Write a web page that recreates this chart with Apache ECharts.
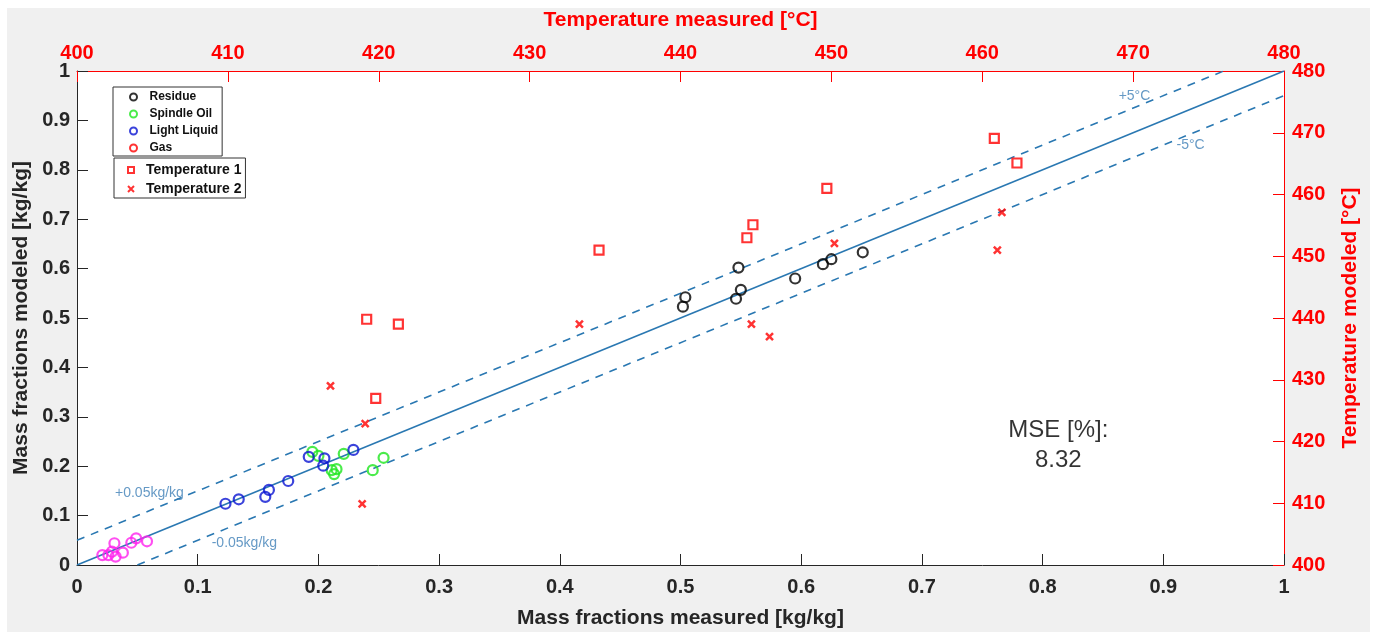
<!DOCTYPE html>
<html>
<head>
<meta charset="utf-8">
<script src="https://cdn.jsdelivr.net/npm/echarts@6/dist/echarts.min.js"></script>
<style>
html,body{margin:0;padding:0;background:#ffffff;}
#chart{position:absolute;left:7px;top:8px;width:1363px;height:624px;}
</style>
</head>
<body>
<div id="chart"></div>
<script>
// ---- data ----
const massTicks = [0, 0.1, 0.2, 0.3, 0.4, 0.5, 0.6, 0.7, 0.8, 0.9, 1];
const tempTicks = [400, 410, 420, 430, 440, 450, 460, 470, 480];

const residueMeasured = [0.502, 0.504, 0.548, 0.546, 0.550, 0.595, 0.618, 0.625, 0.651];
const residueModeled  = [0.523, 0.542, 0.602, 0.539, 0.557, 0.580, 0.609, 0.619, 0.633];

const spindleMeasured = [0.195, 0.200, 0.211, 0.215, 0.213, 0.221, 0.245, 0.254];
const spindleModeled  = [0.229, 0.221, 0.192, 0.194, 0.184, 0.225, 0.192, 0.217];

const lightMeasured = [0.123, 0.134, 0.156, 0.159, 0.175, 0.192, 0.205, 0.204, 0.229];
const lightModeled  = [0.124, 0.133, 0.138, 0.152, 0.170, 0.219, 0.216, 0.201, 0.233];

const gasMeasured = [];
const gasModeled  = [];

const lightGasMeasured = [0.021, 0.026, 0.029, 0.032, 0.031, 0.038, 0.045, 0.049, 0.058];
const lightGasModeled  = [0.020, 0.020, 0.027, 0.017, 0.044, 0.025, 0.045, 0.054, 0.048];

const temp1Measured = [419.2, 421.3, 419.8, 434.6, 444.8, 444.4, 449.7, 460.8, 462.3];
const temp1Modeled  = [439.8, 439.0, 427.0, 451.0, 455.1, 453.0, 461.0, 469.1, 465.1];

const temp2Measured = [416.8, 419.1, 418.9, 433.3, 444.7, 445.9, 450.2, 461.3, 461.0];
const temp2Modeled  = [429.0, 422.9, 409.9, 439.0, 439.0, 437.0, 452.1, 457.1, 451.0];

const parityLine = [[0, 0], [1, 1]];
const upperBand  = [[0, 0.05], [0.95, 1]];
const lowerBand  = [[0.05, 0], [1, 0.95]];
const mseValue = '8.32';

// ---- helpers ----
const zip = (a, b) => a.map((v, i) => [v, b[i]]);
const FONT = '"Liberation Sans", Arial, Helvetica, sans-serif';
const DARK = '#262626';
const RED = '#ff0000';
const LINE_BLUE = '#2a78b2';
const TEXT_BLUE = '#3f7fb6';
const SQUARE = 'path://M0,0L10,0L10,10L0,10Z';
const CROSS = 'path://M0,0L10,10M0,10L10,0';

const chart = echarts.init(document.getElementById('chart'));

function circleSeries(name, data, color) {
  return {
    name: name, type: 'scatter', xAxisIndex: 0, yAxisIndex: 0,
    data: data, symbol: 'circle', symbolSize: 10,
    itemStyle: { color: 'rgba(0,0,0,0)', borderColor: color, borderWidth: 2.2 },
    emphasis: { disabled: true }, z: 5
  };
}

const option = {
  backgroundColor: '#f0f0f0',
  animation: false,
  textStyle: { fontFamily: FONT },
  grid: { left: 70, right: 86, top: 63, bottom: 67, show: true, backgroundColor: '#ffffff', borderWidth: 0, outerBoundsMode: 'none', containLabel: false },
  legend: [
    {
      data: ['Residue', 'Spindle Oil', 'Light Liquid', 'Gas'],
      orient: 'vertical', left: 106, top: 79,
      backgroundColor: '#ffffff', borderColor: '#333333', borderWidth: 1,
      padding: [4, 4, 2, 16], itemGap: 5, itemWidth: 22, itemHeight: 7,
      textStyle: { fontSize: 12, fontWeight: 'bold', color: '#111', fontFamily: FONT },
      selectedMode: false
    },
    {
      data: [{ name: 'Temperature 1', icon: SQUARE }, { name: 'Temperature 2', icon: CROSS }],
      orient: 'vertical', left: 107, top: 150,
      backgroundColor: '#ffffff', borderColor: '#333333', borderWidth: 1,
      padding: [5, 4, 2, 13], itemGap: 5, itemWidth: 20, itemHeight: 6,
      textStyle: { fontSize: 14, fontWeight: 'bold', color: '#111', fontFamily: FONT },
      selectedMode: false
    }
  ],
  xAxis: [
    {
      type: 'value', position: 'bottom', min: massTicks[0], max: massTicks[massTicks.length - 1], interval: 0.1,
      name: 'Mass fractions measured [kg/kg]', nameLocation: 'middle', nameGap: 43,
      nameTextStyle: { fontSize: 21, fontWeight: 'bold', color: DARK, fontFamily: FONT },
      axisLine: { onZero: false, lineStyle: { color: DARK, width: 1 } },
      axisTick: { inside: true, length: 11, lineStyle: { color: DARK } },
      axisLabel: { fontSize: 20, fontWeight: 'bold', color: DARK, margin: 12, fontFamily: FONT },
      splitLine: { show: false }
    },
    {
      type: 'value', position: 'top', min: tempTicks[0], max: tempTicks[tempTicks.length - 1], interval: 10,
      name: 'Temperature measured [°C]', nameLocation: 'middle', nameGap: 40,
      nameTextStyle: { fontSize: 21, fontWeight: 'bold', color: RED, fontFamily: FONT },
      axisLine: { onZero: false, lineStyle: { color: RED, width: 1 } },
      axisTick: { inside: true, length: 11, lineStyle: { color: RED } },
      axisLabel: { fontSize: 20, fontWeight: 'bold', color: RED, margin: 8, fontFamily: FONT },
      splitLine: { show: false }
    }
  ],
  yAxis: [
    {
      type: 'value', position: 'left', min: massTicks[0], max: massTicks[massTicks.length - 1], interval: 0.1,
      name: 'Mass fractions modeled [kg/kg]', nameLocation: 'middle', nameGap: 44, nameRotate: 90,
      nameTextStyle: { fontSize: 21, fontWeight: 'bold', color: DARK, fontFamily: FONT },
      axisLine: { onZero: false, lineStyle: { color: DARK, width: 1 } },
      axisTick: { inside: true, length: 11, lineStyle: { color: DARK } },
      axisLabel: { fontSize: 20, fontWeight: 'bold', color: DARK, margin: 7, fontFamily: FONT },
      splitLine: { show: false }
    },
    {
      type: 'value', position: 'right', min: tempTicks[0], max: tempTicks[tempTicks.length - 1], interval: 10,
      name: 'Temperature modeled [°C]', nameLocation: 'middle', nameGap: 56, nameRotate: 90,
      nameTextStyle: { fontSize: 21, fontWeight: 'bold', color: RED, fontFamily: FONT },
      axisLine: { onZero: false, lineStyle: { color: RED, width: 1 } },
      axisTick: { inside: true, length: 11, lineStyle: { color: RED } },
      axisLabel: { fontSize: 20, fontWeight: 'bold', color: RED, margin: 8, fontFamily: FONT },
      splitLine: { show: false }
    }
  ],
  series: [
    {
      name: 'parity', type: 'line', xAxisIndex: 0, yAxisIndex: 0, data: parityLine,
      symbol: 'none', lineStyle: { color: LINE_BLUE, width: 1.6 }, silent: true, z: 2
    },
    {
      name: 'upper', type: 'line', xAxisIndex: 0, yAxisIndex: 0, data: upperBand,
      symbol: 'none', lineStyle: { color: LINE_BLUE, width: 1.6, type: [8, 7] }, silent: true, z: 2
    },
    {
      name: 'lower', type: 'line', xAxisIndex: 0, yAxisIndex: 0, data: lowerBand,
      symbol: 'none', lineStyle: { color: LINE_BLUE, width: 1.6, type: [8, 7] }, silent: true, z: 2
    },
    circleSeries('Residue', zip(residueMeasured, residueModeled), '#000000'),
    circleSeries('Spindle Oil', zip(spindleMeasured, spindleModeled), '#1ee61e'),
    circleSeries('Light Liquid', zip(lightMeasured, lightModeled), '#0a14d2'),
    circleSeries('Gas', zip(gasMeasured, gasModeled), '#ff0000'),
    circleSeries('gas fraction', zip(lightGasMeasured, lightGasModeled), '#ff22ee'),
    {
      name: 'Temperature 1', type: 'scatter', xAxisIndex: 1, yAxisIndex: 1,
      data: zip(temp1Measured, temp1Modeled), symbol: SQUARE, symbolSize: 9,
      itemStyle: { color: 'rgba(0,0,0,0)', borderColor: RED, borderWidth: 2.2 },
      emphasis: { disabled: true }, z: 6
    },
    {
      name: 'Temperature 2', type: 'scatter', xAxisIndex: 1, yAxisIndex: 1,
      data: zip(temp2Measured, temp2Modeled), symbol: CROSS, symbolSize: 7,
      itemStyle: { color: 'rgba(0,0,0,0)', borderColor: RED, borderWidth: 2.5 },
      emphasis: { disabled: true }, z: 6
    },
    {
      name: 'annotations', type: 'scatter', xAxisIndex: 0, yAxisIndex: 0, symbolSize: 0, silent: true, z: 7,
      data: [
        { name: '+0.05kg/kg', value: [0.0315, 0.146] },
        { name: '-0.05kg/kg', value: [0.1116, 0.044] },
        { name: '+5°C', value: [0.863, 0.949] },
        { name: '-5°C', value: [0.911, 0.849] }
      ],
      label: { show: true, position: 'right', distance: 0, formatter: '{b}', color: TEXT_BLUE, fontSize: 14, fontFamily: FONT }
    },
    {
      name: 'mse', type: 'scatter', xAxisIndex: 0, yAxisIndex: 0, symbolSize: 0, silent: true, z: 7,
      data: [{ name: 'MSE [%]:\n' + mseValue, value: [0.813, 0.243] }],
      label: { show: true, position: 'inside', formatter: '{b}', color: '#000000', textBorderWidth: 0, fontSize: 24, lineHeight: 30, align: 'center', fontFamily: FONT }
    }
  ]
};
chart.setOption(option);
</script>
</body>
</html>
